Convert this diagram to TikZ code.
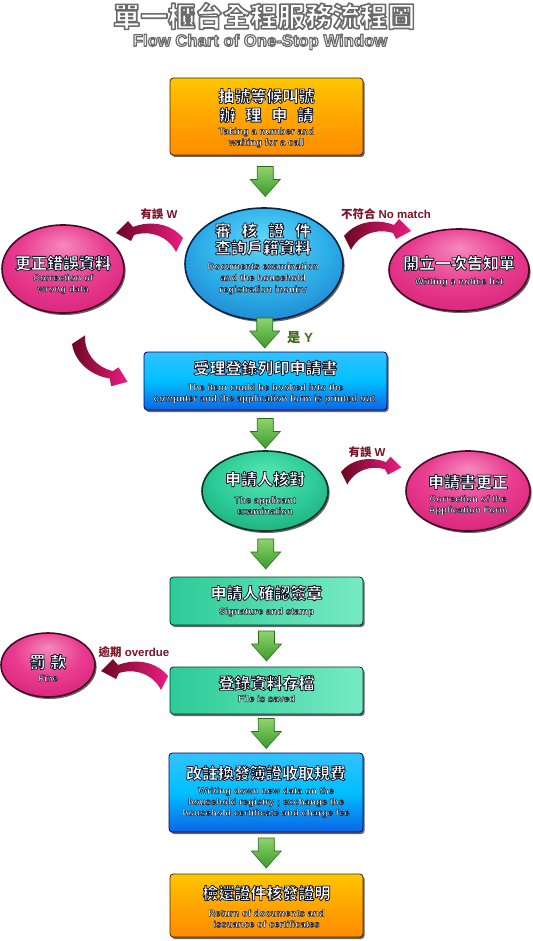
\documentclass[tikz,border=0pt]{standalone}
\usepackage{fontspec}
\setmainfont{Liberation Sans}
\newfontfamily\cjk{Noto Sans CJK TC}
\usetikzlibrary{shapes.geometric,shadows,calc}
\definecolor{olc}{HTML}{141A2C}
\definecolor{titg}{HTML}{6A6A6A}
\definecolor{labr}{HTML}{7A1428}
\definecolor{labg}{HTML}{3E6B1E}
\definecolor{swA}{HTML}{6A0820}
\definecolor{swB}{HTML}{EC1C82}
\definecolor{gA}{HTML}{8ED46C}
\definecolor{gB}{HTML}{3A9A2B}
\definecolor{gD}{HTML}{2B6A1E}
\definecolor{bE1}{HTML}{5CD6F8}
\definecolor{bE2}{HTML}{2DAEE8}
\definecolor{bE3}{HTML}{1772C4}
\definecolor{bE4}{HTML}{0B4A98}
\definecolor{pE1}{HTML}{F588BC}
\definecolor{pE2}{HTML}{E93C90}
\definecolor{pE3}{HTML}{D01C72}
\definecolor{pE4}{HTML}{A30F55}
\definecolor{tE1}{HTML}{55E6B4}
\definecolor{tE2}{HTML}{2CCB97}
\definecolor{tE3}{HTML}{18A070}
\definecolor{tE4}{HTML}{0D7A52}
\pgfdeclareradialshading{blueE}{\pgfpoint{0bp}{12bp}}{color(0bp)=(bE1); color(20bp)=(bE2); color(38bp)=(bE3); color(50bp)=(bE4)}
\pgfdeclareradialshading{pinkE}{\pgfpoint{0bp}{14bp}}{color(0bp)=(pE1); color(18bp)=(pE2); color(38bp)=(pE3); color(50bp)=(pE4)}
\pgfdeclareradialshading{greenE}{\pgfpoint{0bp}{12bp}}{color(0bp)=(tE1); color(20bp)=(tE2); color(38bp)=(tE3); color(50bp)=(tE4)}
% outlined text: one copy, filled with the text colour and stroked in a dark colour
\newcommand\olx[3]{\special{pdf:literal direct 2 Tr #2 w 1 j #1 RG}#3\special{pdf:literal direct 0 Tr}}
\newcommand\ol[1]{\olx{0.08 0.10 0.17}{0.34}{#1}}
\newcommand\olc[1]{\olx{0.08 0.10 0.17}{0.6}{#1}}
\tikzset{
  pics/swoosh/.style 2 args={code={
    \shade[left color=#1, right color=#2] (0,0) .. controls (13,-16) and (35,-17) .. (50,-11) -- (55,-17) -- (67,-5) -- (52,3) -- (49,-3) .. controls (33,-8) and (15,-2) .. (7,14) -- cycle;
  }},
  pics/garrow/.style={code={
    \shade[top color=gA, bottom color=gB, draw=gD, line width=0.4pt] (-8,-15) -- (8,-15) -- (8,-2) -- (15,-2) -- (0,15) -- (-15,-2) -- (-8,-2) -- cycle;
  }},
}
\begin{document}
\begin{tikzpicture}[x=0.75pt,y=-0.75pt,
  every node/.style={inner sep=0pt, outer sep=0pt},
  shd/.style={drop shadow={shadow xshift=1.2pt, shadow yshift=-1.5pt, opacity=0.6, fill=black}},
  obox/.style={rectangle, rounded corners=2.5pt, draw=black!70!orange, line width=0.6pt, top color=orange!45!yellow, bottom color=orange!90!yellow, middle color=orange!70!yellow, shd},
  bbox/.style={rectangle, rounded corners=2.5pt, draw=blue!40!black, line width=0.6pt, top color=cyan!70!blue!80!white, bottom color=cyan!40!blue!90!black!95, middle color=cyan!75!blue, shd},
  tbox/.style={rectangle, rounded corners=2.5pt, draw=teal!40!black, line width=0.6pt, left color=tE2, right color=tE1!80!white, shd},
  bell/.style={ellipse, shading=blueE, draw=bE4!50!black, line width=1.2pt, shd},
  pell/.style={ellipse, shading=pinkE, draw=pE4!45!black, line width=1.2pt, shd},
  gell/.style={ellipse, shading=greenE, draw=tE4!45!black, line width=1.2pt, shd},
  cj/.style={font=\cjk\bfseries\fontsize{12}{14.25}\selectfont, text=white, align=center},
  en/.style={font=\bfseries\fontsize{7.2}{8.25}\selectfont, text=white, align=center},
  lab/.style={font=\bfseries\fontsize{8.6}{10}\selectfont, text=labr},
]
\path[use as bounding box, fill=white] (0,0) rectangle (532,941);

% title
\node[font=\cjk\bfseries\fontsize{20.6}{24}\selectfont, text=white] (t1) at (264,16) {\olx{0.42 0.42 0.42}{1.2}{單一櫃台全程服務流程圖}};
\node[font=\bfseries\fontsize{12.5}{15}\selectfont, text=white] (t2) at (260,42) {\olx{0.42 0.42 0.42}{0.9}{Flow Chart of One-Stop Window}};

% box 1
\node[obox, minimum width=144.75pt, minimum height=57.75pt] (b1) at (266.5,116.5) {};
\node[cj] (b1c) at (266.5,105.5) {\olc{抽號等候叫號}\\\olc{辦\hspace{0.62em}理\hspace{0.62em}申\hspace{0.62em}請}};
\node[en] (b1e) at (266.5,137.5) {\ol{Taking a number and}\\\ol{waiting for a call}};

% blue ellipse
\node[bell, minimum width=118.5pt, minimum height=84pt] (e1) at (264,264) {};
\node[cj, font=\cjk\bfseries\fontsize{12}{12.75}\selectfont] (e1c) at (263,239) {\olc{審\hspace{0.67em}核\hspace{0.67em}證\hspace{0.67em}件}\\\olc{查詢戶籍資料}};
\node[en, font=\bfseries\fontsize{7.2}{8.6}\selectfont] (e1e) at (263,278.5) {\ol{Documents examination}\\\ol{and the household}\\\ol{registration inouirv}};

% left pink
\node[pell, minimum width=91.5pt, minimum height=66pt] (l1) at (63,269) {};
\node[cj] (l1c) at (63,263) {\olc{更正錯誤資料}};
\node[en] (l1e) at (63,284) {\ol{Correction of}\\\ol{wrong data}};

% right pink
\node[pell, minimum width=105pt, minimum height=61.5pt] (r1) at (459,270) {};
\node[cj] (r1c) at (459,263) {\olc{開立一次告知單}};
\node[en] (r1e) at (459,282) {\ol{Writing a notice list}};

% box 2
\node[bbox, minimum width=182.25pt, minimum height=43.5pt] (b2) at (265.5,381) {};
\node[cj] (b2c) at (265.5,368) {\olc{受理登錄列印申請書}};
\node[en] (b2e) at (265.5,393.5) {\ol{The item could be booked into the}\\\ol{computer and the application form is printed out.}};

% green ellipse
\node[gell, minimum width=94.5pt, minimum height=60pt] (g) at (265,491) {};
\node[cj] (gc) at (265,479) {\olc{申請人核對}};
\node[en] (ge) at (265,505.5) {\ol{The applicant}\\\ol{examination}};

% right pink 2
\node[pell, minimum width=93pt, minimum height=60pt] (r2) at (468,491) {};
\node[cj] (r2c) at (468,482) {\olc{申請書更正}};
\node[en] (r2e) at (468,505) {\ol{Correction of the}\\\ol{Application Form}};

% box 3
\node[tbox, minimum width=144.75pt, minimum height=36pt] (b3) at (266.5,601) {};
\node[cj] (b3c) at (266.5,593) {\olc{申請人確認簽章}};
\node[en] (b3e) at (266.5,612) {\ol{Signature and stamp}};

% box 4
\node[tbox, minimum width=144.75pt, minimum height=35.25pt] (b4) at (266.5,690.5) {};
\node[cj] (b4c) at (266.5,683) {\olc{登錄資料存檔}};
\node[en] (b4e) at (266.5,698.5) {\ol{File is saved}};

% fine
\node[pell, minimum width=70.5pt, minimum height=48pt] (f) at (48,665) {};
\node[cj] (fc) at (48,662) {\olc{罰\hspace{0.3em}款}};
\node[en] (fe) at (48,678) {\ol{Fine}};

% box 5
\node[bbox, minimum width=145.5pt, minimum height=59.25pt] (b5) at (266,792.5) {};
\node[cj] (b5c) at (266,773) {\olc{改註換發簿證收取規費}};
\node[en] (b5e) at (266,802.5) {\ol{Writing down new data on the}\\\ol{household registry ; exchange the}\\\ol{household certificate and charge fee}};

% box 6
\node[obox, minimum width=144.75pt, minimum height=47.25pt] (b6) at (266.5,905.5) {};
\node[cj] (b6c) at (266.5,893) {\olc{檢還證件核發證明}};
\node[en] (b6e) at (266.5,918.5) {\ol{Return of documents and}\\\ol{issuance of certificates}};

% green arrows
\pic at ($(b1.south)!0.5!(e1.north)$) {garrow};
\pic at ($(e1.south)!0.5!(b2.north)+(0,-3)$) {garrow};
\pic at ($(b2.south)!0.5!(g.north)+(0,3)$) {garrow};
\pic at ($(g.south)!0.5!(b3.north)$) {garrow};
\pic at ($(b3.south)!0.5!(b4.north)$) {garrow};
\pic at ($(b4.south)!0.5!(b5.north)$) {garrow};
\pic at ($(b5.south)!0.5!(b6.north)$) {garrow};

% swooshes
\coordinate (s1) at (183,238);
\pic[xscale=-1] at (s1) {swoosh={swA}{swB}};
\coordinate (s2) at (344,236);
\pic at (s2) {swoosh={swA}{swB}};
\coordinate (s3) at (72,344);
\pic[rotate=-30,yscale=-1] at (s3) {swoosh={swA}{swB}};
\coordinate (s4) at (341,472);
\pic[scale=0.9] at (s4) {swoosh={swA}{swB}};
\coordinate (s5) at (168,676);
\pic[xscale=-1] at (s5) {swoosh={swA}{swB}};

% labels
\node[lab] (lab1) at (159,214) {{\cjk\bfseries 有誤} W};
\node[lab] (lab2) at (386,214) {{\cjk\bfseries 不符合} No match};
\node[lab, text=labg, font=\bfseries\fontsize{10}{12}\selectfont] (lab3) at (300,338) {{\cjk\bfseries 是} Y};
\node[lab] (lab4) at (367,452) {{\cjk\bfseries 有誤} W};
\node[lab] (lab5) at (134,652) {{\cjk\bfseries 逾期} overdue};
\end{tikzpicture}
\end{document}
